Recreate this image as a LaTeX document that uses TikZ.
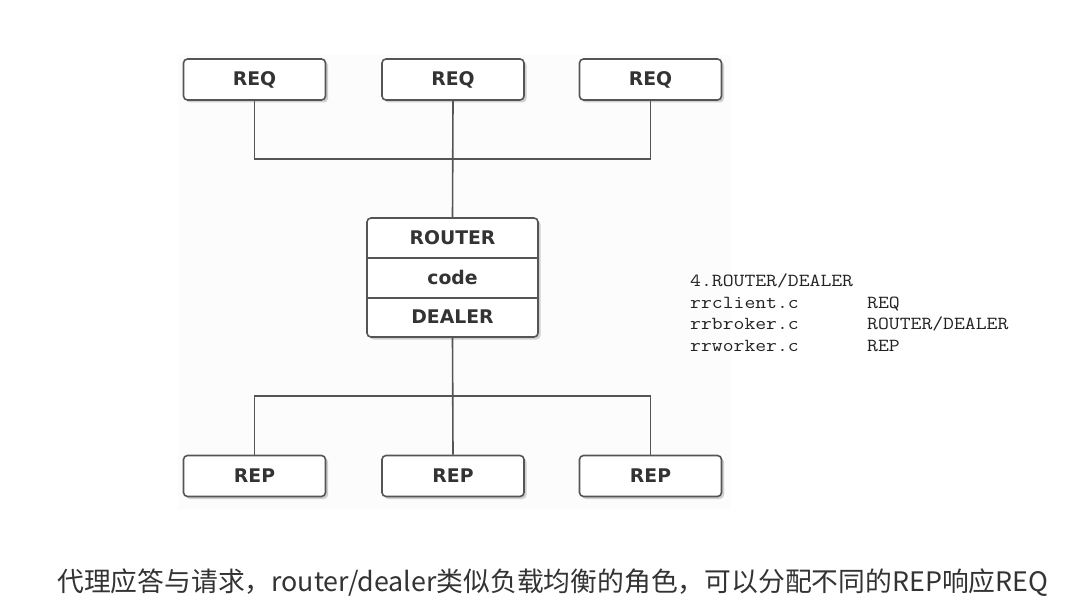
\documentclass[tikz,border=0pt]{standalone}
\usepackage{fontspec}
\setmonofont{Latin Modern Mono}[FakeStretch=1.146]
\newfontfamily\boxfont{DejaVu Sans}
\newfontfamily\cjk{Noto Sans CJK SC}
\usetikzlibrary{shadows}
\definecolor{edge}{HTML}{555555}
\definecolor{ink}{HTML}{333333}
\definecolor{codeink}{HTML}{222222}
\definecolor{bgshade}{HTML}{FCFCFC}
\tikzset{
  box/.style={draw=edge, line width=1.6pt, rounded corners=4pt, fill=white,
    minimum width=142pt, minimum height=41pt, inner sep=0pt,
    font=\boxfont\bfseries\fontsize{18.8}{21}\selectfont, text=ink,
    drop shadow={shadow xshift=2.5pt, shadow yshift=-2.5pt, opacity=0.35, fill=gray}},
  lbl/.style={inner sep=0pt, font=\boxfont\bfseries\fontsize{18.8}{21}\selectfont, text=ink},
  conn/.style={draw=edge, line width=1.6pt},
  code/.style={anchor=base west, inner sep=0pt, font=\ttfamily\fontsize{18.4}{20}\selectfont, text=codeink}
}
\begin{document}
\begin{tikzpicture}[x=1pt,y=-1pt]
\useasboundingbox[fill=white] (0,0) rectangle (1078,609);
\fill[bgshade] (178,55) rectangle (730,510);
% top clients
\node[box] (req1) at (254.5,79.5) {REQ};
\node[box] (req2) at (453,79.5) {REQ};
\node[box] (req3) at (650.5,79.5) {REQ};
% broker
\node[box, minimum width=171pt, minimum height=119pt] (broker) at (452.5,277.5) {};
\node[lbl] (router) at (452.5,238) {ROUTER};
\node[lbl] (codelbl) at (452.5,277) {code};
\node[lbl] (dealer) at (452.5,317) {DEALER};
\draw[conn] (broker.west |- 0,258) -- (broker.east |- 0,258);
\draw[conn] (broker.west |- 0,298) -- (broker.east |- 0,298);
% bottom workers
\node[box] (rep1) at (254.5,476) {REP};
\node[box] (rep2) at (453,476) {REP};
\node[box] (rep3) at (650.5,476) {REP};
% connectors
\coordinate (hubtop) at (453,159);
\coordinate (hubbot) at (453,396);
\draw[conn] (req1.south) |- (hubtop) -| (req3.south);
\draw[conn] (req2.south) -- (broker.north);
\draw[conn] (rep1.north) |- (hubbot) -| (rep3.north);
\draw[conn] (broker.south) -- (rep2.north);
% code listing
\node[code] (t1) at (690,287) {4.ROUTER/DEALER};
\node[code] (t2) at (690,308.5) {rrclient.c};
\node[code] (t3) at (690,330) {rrbroker.c};
\node[code] (t4) at (690,351.5) {rrworker.c};
\node[code] (u2) at (867,308.5) {REQ};
\node[code] (u3) at (867,330) {ROUTER/DEALER};
\node[code] (u4) at (867,351.5) {REP};
% caption
\node[anchor=base west, inner sep=0pt, text=ink, font=\cjk\fontsize{26.8}{30}\selectfont] (cap) at (57,591)
  {代理应答与请求，router/dealer类似负载均衡的角色，可以分配不同的REP响应REQ};
\end{tikzpicture}
\end{document}
